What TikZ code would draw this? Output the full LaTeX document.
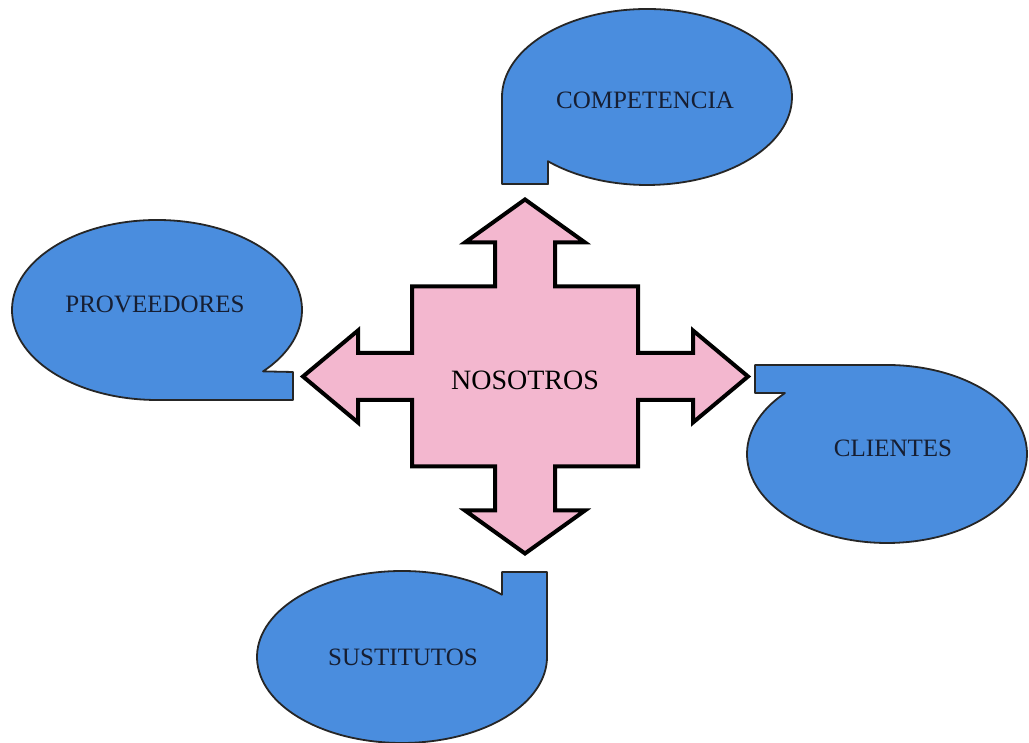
\documentclass[tikz,border=0pt]{standalone}
\usepackage{fontspec}
\setmainfont{Liberation Serif}
\usepackage{xcolor}
\usepackage{tikz}
\usetikzlibrary{positioning, calc}
\definecolor{azulburbuja}{RGB}{74,141,222}
\definecolor{rosacruz}{RGB}{243,183,207}
\definecolor{tinta}{RGB}{22,30,50}
\tikzset{porter/.style={
    x=1pt, y=1pt,
    burbuja/.style={draw=black!85, line width=1.8pt, fill=azulburbuja, line join=round},
    cruz/.style={draw=black, line width=4pt, fill=rosacruz, line join=miter},
    rotulo/.style={inner sep=0pt, text=tinta, font=\fontsize{25}{30}\selectfont},
}}

\begin{document}
\begin{tikzpicture}[porter]
    \useasboundingbox (0,0) rectangle (1029,743);
    % burbujas
    \draw[burbuja] (502,646) -- (502,559) -- (548,559) -- ($(647,646)+(226.9:145 and 88)$)
        arc[start angle=226.9, end angle=540, x radius=145, y radius=88] -- cycle;
    \draw[burbuja] (157,343) -- (293,343) -- (293,371) -- ($(157,433)+(317:145 and 90)$)
        arc[start angle=317, end angle=630, x radius=145, y radius=90] -- cycle;
    \draw[burbuja] (887,378) -- (755,378) -- (755,350) -- ($(887,289)+(136.8:140 and 89)$)
        arc[start angle=136.8, end angle=450, x radius=140, y radius=89] -- cycle;
    \draw[burbuja] (547,86) -- (547,171) -- (502,171) -- ($(402,86)+(46.4:145 and 86)$)
        arc[start angle=46.4, end angle=360, x radius=145, y radius=86] -- cycle;
    % cruz central
    \begin{scope}[shift={(525,366.5)}]
        \draw[cruz] (223,0) -- (168,46) -- (168,23.5) -- (113,23.5) -- (113,90) -- (30,90)
            -- (30,134) -- (60,134) -- (0,177) -- (-60,134) -- (-30,134) -- (-30,90)
            -- (-113,90) -- (-113,23.5) -- (-167,23.5) -- (-167,46) -- (-222,0)
            -- (-167,-46) -- (-167,-23.5) -- (-113,-23.5) -- (-113,-90) -- (-30,-90)
            -- (-30,-134) -- (-60,-134) -- (0,-177) -- (60,-134) -- (30,-134) -- (30,-90)
            -- (113,-90) -- (113,-23.5) -- (168,-23.5) -- (168,-46) -- cycle;
    \end{scope}
    % textos
    \node[rotulo, text=black, font=\fontsize{28}{32}\selectfont] (nosotros) at (525,363) {NOSOTROS};
    \node[rotulo] (competencia) at (645,643) {COMPETENCIA};
    \node[rotulo] (proveedores) at (155,439) {PROVEEDORES};
    \node[rotulo] (clientes) at (893,295) {CLIENTES};
    \node[rotulo] (sustitutos) at (403,86) {SUSTITUTOS};
\end{tikzpicture}
\end{document}
